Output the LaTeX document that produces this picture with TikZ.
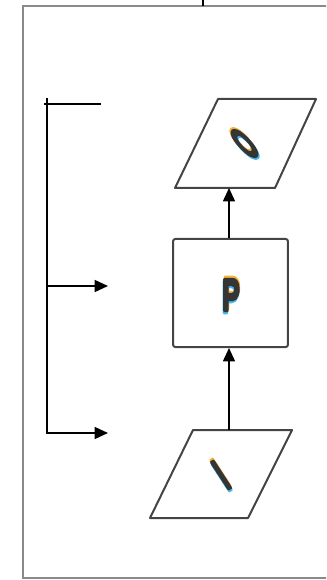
\documentclass[tikz,border=0pt]{standalone}
\usepackage{fontspec}
\setsansfont{Liberation Sans}
\usetikzlibrary{arrows.meta}
\definecolor{framegray}{HTML}{8A8A8A}
\definecolor{shapegray}{HTML}{444444}
\definecolor{lettergray}{HTML}{353535}
\definecolor{fringewarm}{HTML}{F2B33A}
\definecolor{fringecool}{HTML}{46B8EE}
% a glyph that is filled and stroked, in the current colour
\newcommand{\stroked}[1]{\special{pdf:literal direct 2 Tr 0.7 w 1 j}#1\special{pdf:literal direct 0 Tr}}
% heavy, narrow capital sized to a given box, warm edge above, cool edge below
\newcommand{\bigletter}[3]{\resizebox{#1}{#2}{\sffamily\bfseries
  \makebox[0pt][l]{\color{fringewarm}\hspace{0.02em}\raisebox{0.045em}{\stroked{#3}}}%
  \makebox[0pt][l]{\color{fringecool}\hspace{-0.02em}\raisebox{-0.045em}{\stroked{#3}}}%
  {\color{lettergray}\stroked{#3}}}}
\begin{document}
\begin{tikzpicture}[x=0.75pt,y=-0.75pt,
  frame/.style={draw=framegray,line width=2.2pt},
  outline/.style={draw=shapegray,line width=1.5pt,line join=round},
  conn/.style={draw=black,line width=1.1pt},
  arr/.style={conn,-{Triangle[length=10pt,width=9pt]}},
  letter/.style={inner sep=0pt}]
\useasboundingbox (0,0) rectangle (326,580);
\clip (0,0) rectangle (326,580);
% outer frame (runs off the right side)
\draw[frame] (340,6) -- (23,6) -- (23,578) -- (340,578);
\coordinate (tickTop) at (203,-2);
\coordinate (tickBot) at (203,6);
\draw[conn] (tickTop) -- (tickBot);
% output parallelogram
\coordinate (O1) at (218,99);
\coordinate (O2) at (316,99);
\coordinate (O3) at (275,188);
\coordinate (O4) at (175,188);
\draw[outline] (O1) -- (O2) -- (O3) -- (O4) -- cycle;
\coordinate (Obot) at (229,188);
\node[letter,rotate=43] (O) at (244.5,143.5) {\bigletter{10pt}{27pt}{O}};
% process box
\node[outline,rounded corners=1.5pt,minimum width=86pt,minimum height=81pt,inner sep=0pt] (P) at (230.5,293) {};
\node[letter] (Plbl) at (231,295) {\bigletter{13pt}{25pt}{P}};
% input parallelogram
\coordinate (I1) at (193,430);
\coordinate (I2) at (292,430);
\coordinate (I3) at (248,518);
\coordinate (I4) at (150,518);
\draw[outline] (I1) -- (I2) -- (I3) -- (I4) -- cycle;
\coordinate (Itop) at (229,430);
\node[letter,rotate=33] (I) at (221,475) {\bigletter{5pt}{25pt}{I}};
% flow arrows
\draw[arr] (Itop) -- (Itop |- P.south);
\draw[arr] (Obot |- P.north) -- (Obot);
% feedback bracket on the left
\coordinate (bTop) at (47,98);
\coordinate (bBot) at (47,434);
\coordinate (hA) at (44,104);
\coordinate (hB) at (101,104);
\coordinate (mA) at (46,286);
\coordinate (mB) at (108,286);
\coordinate (lA) at (46,433);
\coordinate (lB) at (108,433);
\draw[conn] (bTop) -- (bBot);
\draw[conn] (hA) -- (hB);
\draw[arr] (mA) -- (mB);
\draw[arr] (lA) -- (lB);
\end{tikzpicture}
\end{document}
